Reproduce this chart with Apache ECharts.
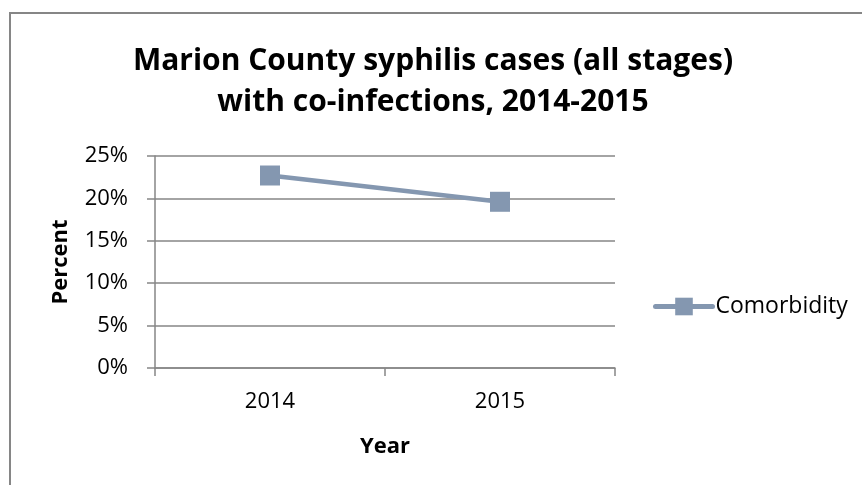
<!DOCTYPE html>
<html>
<head>
<meta charset="utf-8">
<script src="https://cdn.jsdelivr.net/npm/echarts@6/dist/echarts.min.js"></script>
<style>
  html, body { margin: 0; padding: 0; background: #fff; }
  #main { width: 862px; height: 485px; }
</style>
</head>
<body>
<div id="main"></div>
<script>
// 数据
var years = ['2014', '2015'];
var comorbidity = [22.7, 19.6];
var seriesName = 'Comorbidity';

var font = '"Open Sans", "Liberation Sans", sans-serif';
var lineColor = '#8497B0';
var axisColor = '#868686';

var chart = echarts.init(document.getElementById('main'));

chart.setOption({
  animation: false,
  backgroundColor: '#fff',
  textStyle: { fontFamily: font },
  title: {
    text: 'Marion County syphilis cases (all stages)\nwith co-infections, 2014-2015',
    left: 433,
    top: 41,
    padding: 0,
    textAlign: 'center',
    textStyle: {
      fontFamily: font,
      fontSize: 30,
      fontWeight: 'bold',
      color: '#000',
      lineHeight: 41
    }
  },
  graphic: [{
    // 外框
    type: 'rect',
    shape: { x: 10, y: 13, width: 900, height: 500 },
    style: { fill: 'none', stroke: axisColor, lineWidth: 2 },
    silent: true
  }],
  legend: {
    left: 653,
    top: 295,
    padding: 0,
    itemWidth: 57,
    itemHeight: 22,
    lineStyle: { width: 5, cap: 'round' },
    textStyle: { fontFamily: font, fontSize: 23, color: '#000', padding: [0, 0, 0, -2] },
    data: [seriesName]
  },
  grid: {
    left: 155,
    right: 247,
    top: 156,
    bottom: 117
  },
  xAxis: {
    type: 'category',
    data: years,
    boundaryGap: true,
    name: 'Year',
    nameLocation: 'middle',
    nameGap: 68,
    nameTextStyle: { fontFamily: font, fontSize: 22, fontWeight: 'bold', color: '#000' },
    axisLine: { lineStyle: { color: axisColor, width: 1.5 } },
    axisTick: { show: true, length: 8, lineStyle: { color: axisColor, width: 1.5 } },
    axisLabel: { fontFamily: font, fontSize: 22, color: '#000', margin: 23 }
  },
  yAxis: {
    type: 'value',
    min: 0,
    max: 25,
    interval: 5,
    name: 'Percent',
    nameLocation: 'middle',
    nameGap: 83,
    nameRotate: 90,
    nameTextStyle: { fontFamily: font, fontSize: 22, fontWeight: 'bold', color: '#000' },
    axisLine: { show: true, lineStyle: { color: axisColor, width: 1.5 } },
    axisTick: { show: true, length: 8, lineStyle: { color: axisColor, width: 1.5 } },
    axisLabel: {
      fontFamily: font, fontSize: 22, color: '#000', margin: 27,
      formatter: function (v) { return v + '%'; }
    },
    splitLine: { lineStyle: { color: axisColor, width: 1.5 } }
  },
  series: [{
    name: seriesName,
    type: 'line',
    data: comorbidity,
    symbol: 'rect',
    symbolSize: 20,
    lineStyle: { color: lineColor, width: 4.5 },
    itemStyle: { color: lineColor },
    z: 3
  }]
});
</script>
</body>
</html>
